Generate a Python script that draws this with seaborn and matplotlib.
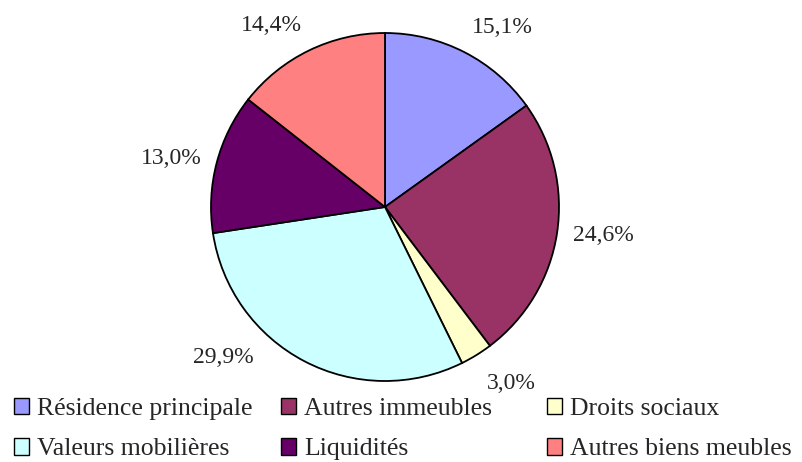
import numpy as np
import seaborn as sns
import matplotlib.pyplot as plt
from matplotlib.patches import Patch

# données
categories = ["Résidence principale", "Autres immeubles", "Droits sociaux",
              "Valeurs mobilières", "Liquidités", "Autres biens meubles"]
valeurs = [15.1, 24.6, 3.0, 29.9, 13.0, 14.4]
couleurs = ["#9999FF", "#993366", "#FFFFCC", "#CCFFFF", "#660066", "#FF8080"]

sns.set_theme(style="white")
plt.rcParams["font.family"] = ["Liberation Serif", "DejaVu Serif"]
FS_LAB = 17
FS_LEG = 18.5

W, H = 803, 462
fig = plt.figure(figsize=(W / 100, H / 100), dpi=100)
ax = fig.add_axes([0, 0, 1, 1])

# centre et rayon du camembert en pixels
cx, cy, r = 385, 207, 174

wedges, _ = ax.pie(valeurs, colors=couleurs, startangle=90, counterclock=False,
                   radius=1, wedgeprops=dict(edgecolor="black", linewidth=1.3))

# étiquettes en dehors du camembert (coin le plus proche vers le camembert)
for i, w in enumerate(wedges):
    lab = f"{valeurs[i]:.1f}%".replace(".", ",")
    if i == 3:
        # étiquette décalée pour laisser la place à la légende
        ang = np.deg2rad(-137)
        ax.text(1.27 * np.cos(ang), 1.27 * np.sin(ang), lab,
                ha="center", va="center", fontsize=FS_LAB)
        continue
    ang = np.deg2rad((w.theta1 + w.theta2) / 2)
    c, s = np.cos(ang), np.sin(ang)
    ha = "left" if c > 0.1 else ("right" if c < -0.1 else "center")
    va = "bottom" if s > 0.3 else ("top" if s < -0.3 else "center")
    d = 1.12 if s < -0.3 else 1.09
    ax.text(d * c, d * s, lab, ha=ha, va=va, fontsize=FS_LAB)

ax.set_xlim(-cx / r, (W - cx) / r)
ax.set_ylim(-(H - cy) / r, cy / r)
ax.set_aspect("equal")
ax.axis("off")

# légende : trois colonnes placées comme dans l'original
handles = [Patch(facecolor=c, edgecolor="black", linewidth=1) for c in couleurs]
col_x = [14, 281, 547]
for j in range(3):
    fig.legend([handles[j], handles[j + 3]],
               [categories[j], categories[j + 3]],
               loc="upper left", bbox_to_anchor=(col_x[j] / W, 1 - 398 / H),
               frameon=False, fontsize=FS_LEG, handlelength=0.6,
               handleheight=0.6, handletextpad=0.3, labelspacing=0.7,
               borderpad=0, borderaxespad=0)

fig.savefig("out.png", dpi=100)
